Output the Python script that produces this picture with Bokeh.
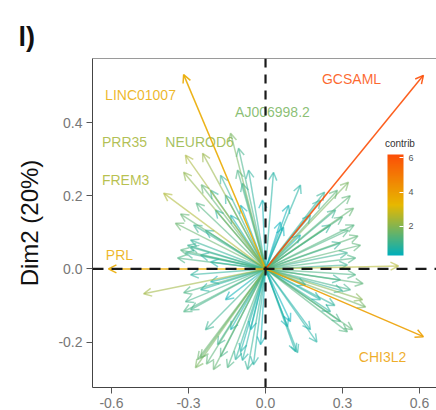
import numpy as np
from bokeh.plotting import figure
from bokeh.models import (ColumnDataSource, Arrow, OpenHead, Span, Label, LinearAxis, Title,
                          FixedTicker, LinearColorMapper, ColorBar, Range1d)
from bokeh.core.properties import value, field
from bokeh.embed import file_html
from bokeh.resources import INLINE

# ---------------- data (variable coordinates on Dim1 / Dim2 and contributions) ----------------
dim1 = [0.615, -0.319, -0.612, 0.615, 0.518, -0.475,
        -0.312, -0.245, -0.319, -0.397, -0.351, -0.331, -0.304, -0.312, -0.343, -0.292, -0.234,
        -0.136, -0.066, -0.105, -0.175, -0.214, -0.156, -0.136, -0.195, -0.097, -0.253, -0.214,
        0.031, -0.012,
        0.323, 0.280, 0.343, 0.300, 0.090, 0.070, 0.323, 0.292, 0.319, 0.214, 0.175, 0.253,
        0.136, 0.273, 0.370, 0.351, 0.319, 0.136,
        0.390, 0.378, 0.319, 0.292, 0.117, 0.097, 0.331, 0.292, 0.214, 0.253, 0.175, 0.351, 0.156,
        -0.253, -0.273, -0.203, -0.148, -0.070, -0.047, -0.097, -0.187, -0.312, -0.319, -0.253,
        -0.214, -0.136, -0.156, -0.019, -0.058, -0.234, -0.117, -0.292,
        -0.109, -0.090, -0.331, -0.292, -0.319, -0.292, 0.058, 0.339, 0.125, 0.086,
        -0.265, -0.230, -0.175, 0.330, 0.345, 0.360, 0.300, 0.270, -0.270, -0.250,
        -0.280, 0.230, 0.200, -0.090, 0.380]
dim2 = [0.529, 0.531, 0.000, -0.185, 0.008, -0.068,
        0.311, 0.316, 0.264, 0.207, 0.125, 0.150, 0.065, 0.044, 0.030, 0.079, 0.106,
        0.371, 0.270, 0.330, 0.256, 0.215, 0.202, 0.147, 0.161, 0.174, 0.038, 0.019,
        0.264, 0.188,
        0.237, 0.215, 0.166, 0.142, 0.174, 0.114, 0.106, 0.071, 0.044, 0.188, 0.147, 0.120,
        0.093, 0.161, 0.065, 0.030, 0.011, 0.229,
        -0.104, -0.084, -0.172, -0.144, -0.226, -0.144, -0.057, -0.030, -0.084, -0.117, -0.166,
        -0.016, -0.044,
        -0.243, -0.270, -0.275, -0.270, -0.275, -0.262, -0.226, -0.207, -0.090, -0.117, -0.057,
        -0.035, -0.166, -0.084, -0.207, -0.166, -0.166, -0.248, -0.016,
        0.270, 0.234, 0.052, 0.060, -0.065, -0.112, 0.128, -0.166, -0.229, -0.158,
        -0.248, -0.260, -0.240, 0.200, 0.120, 0.090, -0.060, -0.100, 0.180, 0.230,
        0.120, 0.210, -0.200, -0.250, -0.040]
contrib = [6.2, 3.6, 3.6, 3.9, 2.6, 2.3,
           2.4, 2.2, 2.1, 2.5, 1.6, 1.5, 1.0, 1.0, 1.2, 0.9, 0.7,
           1.8, 0.8, 1.1, 0.9, 0.9, 0.7, 0.5, 0.7, 0.4, 0.7, 0.5,
           0.7, 0.4,
           1.8, 1.4, 1.5, 1.2, 0.4, 0.2, 1.2, 0.9, 1.0, 0.8, 0.6, 0.8,
           0.3, 1.0, 1.4, 1.2, 1.0, 0.7,
           1.7, 2.0, 1.3, 1.1, 0.6, 0.3, 1.1, 0.9, 0.6, 0.8, 0.6, 1.2, 0.3,
           1.6, 1.8, 1.5, 1.2, 0.9, 0.7, 0.6, 1.0, 1.1, 1.2, 0.7,
           0.5, 0.5, 0.4, 0.4, 0.3, 1.0, 0.8, 0.8,
           1.2, 0.9, 1.3, 1.0, 1.2, 1.1, 0.3, 1.4, 0.7, 0.4,
           1.6, 1.4, 1.1, 1.4, 1.3, 1.4, 0.9, 0.8, 1.3, 1.5,
           1.0, 0.9, 0.7, 0.7, 1.4]

label_names = ["GCSAML", "LINC01007", "PRL", "CHI3L2", "AJ006998.2", "PRR35", "NEUROD6", "FREM3"]
label_var = [0, 1, 2, 3, 17, 6, 7, 9]          # which variable each label belongs to

x_ticks = [-0.6, -0.3, 0.0, 0.3, 0.6]
x_tick_labels = ["-0.6", "-0.3", "0.0", "0.3", "0.6"]
y_ticks = [-0.2, 0.0, 0.2, 0.4]
y_tick_labels = ["-0.2", "0.0", "0.2", "0.4"]
cbar_ticks = [2, 4, 6]

# ---------------- layout / style ----------------
label_x = [0.335, -0.487, -0.569, 0.456, 0.027, -0.549, -0.257, -0.545]
label_y = [0.520, 0.474, 0.038, -0.240, 0.428, 0.346, 0.346, 0.243]

FONT = "Liberation Sans"
c_low, c_high = 0.3, 6.2
anchors = ["#00AFBB", "#E7B800", "#FC4E07"]

def hex2rgb(h):
    return np.array([int(h[i:i + 2], 16) for i in (1, 3, 5)], dtype=float)

anc = np.array([hex2rgb(h) for h in anchors])
ts = np.linspace(0, 1, 256)
palette = []
for t in ts:
    seg = min(int(t * 2), 1)
    u = t * 2 - seg
    rgb = anc[seg] * (1 - u) + anc[seg + 1] * u
    palette.append("#%02x%02x%02x" % tuple(int(round(v)) for v in rgb))

def col_of(c):
    t = (c - c_low) / (c_high - c_low)
    t = min(max(t, 0), 1)
    return palette[int(round(t * 255))]

order = np.argsort(contrib, kind="stable")
n = len(dim1)
src = ColumnDataSource(dict(
    x0=[0.0] * n, y0=[0.0] * n,
    x1=[dim1[i] for i in order], y1=[dim2[i] for i in order],
    color=[col_of(contrib[i]) for i in order],
    alpha=[0.55 if contrib[i] < 3 else 0.9 for i in order]))

p = figure(width=436, height=410, output_backend="svg", toolbar_location=None,
           x_range=Range1d(-0.674, 0.666), y_range=Range1d(-0.324, 0.575),
           min_border_left=92, min_border_right=0, min_border_top=58, min_border_bottom=22)
p.outline_line_color = None
p.xgrid.visible = False
p.ygrid.visible = False
p.background_fill_color = "white"

for ax, ticks, labels in ((p.xaxis[0], x_ticks, x_tick_labels), (p.yaxis[0], y_ticks, y_tick_labels)):
    ax.ticker = FixedTicker(ticks=ticks)
    ax.major_label_overrides = {t: l for t, l in zip(ticks, labels)}
    ax.minor_tick_line_color = None
    ax.major_tick_in = 0
    ax.major_tick_out = 6
    ax.major_tick_line_color = "#555555"
    ax.axis_line_color = "#444444"
    ax.major_label_text_font = FONT
    ax.major_label_text_font_size = "14px"
    ax.major_label_text_color = "#777777"
    ax.major_label_standoff = 4

p.yaxis[0].axis_label = "Dim2 (20%)"
p.yaxis[0].axis_label_text_font = FONT
p.yaxis[0].axis_label_text_font_size = "24px"
p.yaxis[0].axis_label_text_font_style = "normal"
p.yaxis[0].axis_label_text_color = "#111111"
p.yaxis[0].axis_label_standoff = 12

top = LinearAxis(ticker=FixedTicker(ticks=[]), axis_line_color="#9a9a9a",
                 major_tick_line_color=None, minor_tick_line_color=None)
p.add_layout(top, "above")
p.add_layout(Title(text="l)", align="left", offset=-74, standoff=14, text_font=FONT,
                   text_font_size="27px", text_font_style="bold", text_color="#111111"), "above")

arrows = Arrow(end=OpenHead(size=8, line_color=field("color"), line_width=1.5, line_alpha=field("alpha")),
               x_start="x0", y_start="y0", x_end="x1", y_end="y1",
               line_color=field("color"), line_width=1.5, line_alpha=field("alpha"), source=src)
p.add_layout(arrows)

p.add_layout(Span(location=0, dimension="width", line_color="#1a1a1a", line_width=2.2, line_dash="11 8"))
p.add_layout(Span(location=0, dimension="height", line_color="#1a1a1a", line_width=2.2, line_dash="9 7"))

lab_src = ColumnDataSource(dict(x=label_x, y=label_y, text=label_names,
                                color=[col_of(contrib[i]) for i in label_var]))
p.text(x="x", y="y", text="text", source=lab_src, text_color="color", text_alpha=0.85,
       text_font=value(FONT), text_font_size="14px", text_align="center", text_baseline="middle")

mapper = LinearColorMapper(palette=palette, low=c_low, high=c_high)
cb = ColorBar(color_mapper=mapper, location=(295, 132), width=16, height=101, padding=0,
              ticker=FixedTicker(ticks=cbar_ticks), major_label_text_font=FONT,
              major_label_text_font_size="9px", major_label_text_color="#555555",
              major_tick_line_color="white", major_tick_in=4, major_tick_out=0,
              bar_line_color=None, background_fill_alpha=0, border_line_color=None)
p.add_layout(cb)
p.add_layout(Label(x=0.465, y=0.343, text="contrib", text_font=FONT, text_font_size="10px",
                   text_color="#333333", text_baseline="middle"))

open("out.html", "w").write(file_html(p, INLINE))
